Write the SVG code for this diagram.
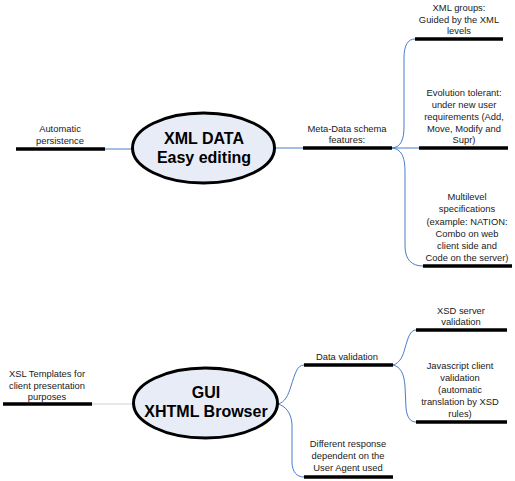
<svg xmlns="http://www.w3.org/2000/svg" width="515" height="481" viewBox="0 0 515 481">
<style>
.t{font-family:"Liberation Sans",Arial,sans-serif;font-size:9.4px;fill:#1a1a1a;text-anchor:middle}
.h{font-family:"Liberation Sans",Arial,sans-serif;font-size:16px;font-weight:bold;fill:#000;text-anchor:middle}
.bar{stroke:#000;stroke-width:3.5;fill:none}
.c{stroke:#4a7cc9;stroke-width:1;fill:none}
.g{stroke:#c9d1dc;stroke-width:1.2;fill:none}
.ell{fill:#e8ecf6;stroke:#000;stroke-width:3}
</style>
<rect width="515" height="481" fill="#fff"/>
<g id="connectors">
<path class="c" d="M105,149 L132,149"/>
<path class="c" d="M275,148 L303,148"/>
<path class="c" d="M392,148 C401,147 404,140 404,126 L404,58 C404,45 408,39 415,39"/>
<path class="c" d="M392,148 L419,148"/>
<path class="c" d="M392,148 C401,149 405,156 405,172 L405,246 C405,260 412,266 423,266"/>
<path class="g" d="M92,404 L133,404"/>
<path class="c" d="M278,404 C285,402 288,396 291,386 C295,374 297,365 304,365"/>
<path class="c" d="M278,404 C285,406 291,412 292,424 L292,462 C292,472 297,477 304,477"/>
<path class="c" d="M393,365 C400,363 403,356 405,348 C408,338 410,330 416,330"/>
<path class="c" d="M393,365 C401,367 404,374 405,386 L406,408 C407,417 410,422 416,422"/>
</g>
<g id="xml-data">
<ellipse class="ell" cx="203.5" cy="148" rx="71" ry="35"/>
<text class="h" x="204" y="144">XML DATA</text>
<text class="h" x="204" y="163">Easy editing</text>
</g>
<g id="automatic-persistence">
<line class="bar" x1="16" y1="149" x2="105" y2="149"/>
<text class="t" x="60" y="132">Automatic</text>
<text class="t" x="60" y="144">persistence</text>
</g>
<g id="meta-data">
<line class="bar" x1="303" y1="148" x2="392" y2="148"/>
<text class="t" x="347" y="132">Meta-Data schema</text>
<text class="t" x="347" y="143">features:</text>
</g>
<g id="xml-groups">
<line class="bar" x1="415" y1="39" x2="503" y2="39"/>
<text class="t" x="459" y="11">XML groups:</text>
<text class="t" x="459" y="23">Guided by the XML</text>
<text class="t" x="459" y="34">levels</text>
</g>
<g id="evolution">
<line class="bar" x1="419" y1="148" x2="508" y2="148"/>
<text class="t" x="464" y="96">Evolution tolerant:</text>
<text class="t" x="464" y="108">under new user</text>
<text class="t" x="464" y="120">requirements (Add,</text>
<text class="t" x="464" y="132">Move, Modify and</text>
<text class="t" x="464" y="143">Supr)</text>
</g>
<g id="multilevel">
<line class="bar" x1="423" y1="266" x2="512" y2="266"/>
<text class="t" x="467" y="200">Multilevel</text>
<text class="t" x="467" y="212">specifications</text>
<text class="t" x="467" y="225">(example: NATION:</text>
<text class="t" x="467" y="237">Combo on web</text>
<text class="t" x="467" y="249">client side and</text>
<text class="t" x="467" y="261">Code on the server)</text>
</g>
<g id="gui">
<ellipse class="ell" cx="205.5" cy="403" rx="72" ry="35"/>
<text class="h" x="206" y="398">GUI</text>
<text class="h" x="206" y="417">XHTML Browser</text>
</g>
<g id="xsl-templates">
<line class="bar" x1="3" y1="404" x2="92" y2="404"/>
<text class="t" x="47" y="377">XSL Templates for</text>
<text class="t" x="47" y="389">client presentation</text>
<text class="t" x="47" y="400">purposes</text>
</g>
<g id="data-validation">
<line class="bar" x1="304" y1="365" x2="393" y2="365"/>
<text class="t" x="347" y="360">Data validation</text>
</g>
<g id="xsd-server">
<line class="bar" x1="416" y1="330" x2="507" y2="330"/>
<text class="t" x="461" y="314">XSD server</text>
<text class="t" x="461" y="325">validation</text>
</g>
<g id="javascript">
<line class="bar" x1="416" y1="422" x2="507" y2="422"/>
<text class="t" x="460" y="369">Javascript client</text>
<text class="t" x="460" y="381">validation</text>
<text class="t" x="460" y="393">(automatic</text>
<text class="t" x="460" y="405">translation by XSD</text>
<text class="t" x="460" y="417">rules)</text>
</g>
<g id="different-response">
<line class="bar" x1="304" y1="477" x2="393" y2="477"/>
<text class="t" x="348" y="447">Different response</text>
<text class="t" x="348" y="459">dependent on the</text>
<text class="t" x="348" y="471">User Agent used</text>
</g>
</svg>
